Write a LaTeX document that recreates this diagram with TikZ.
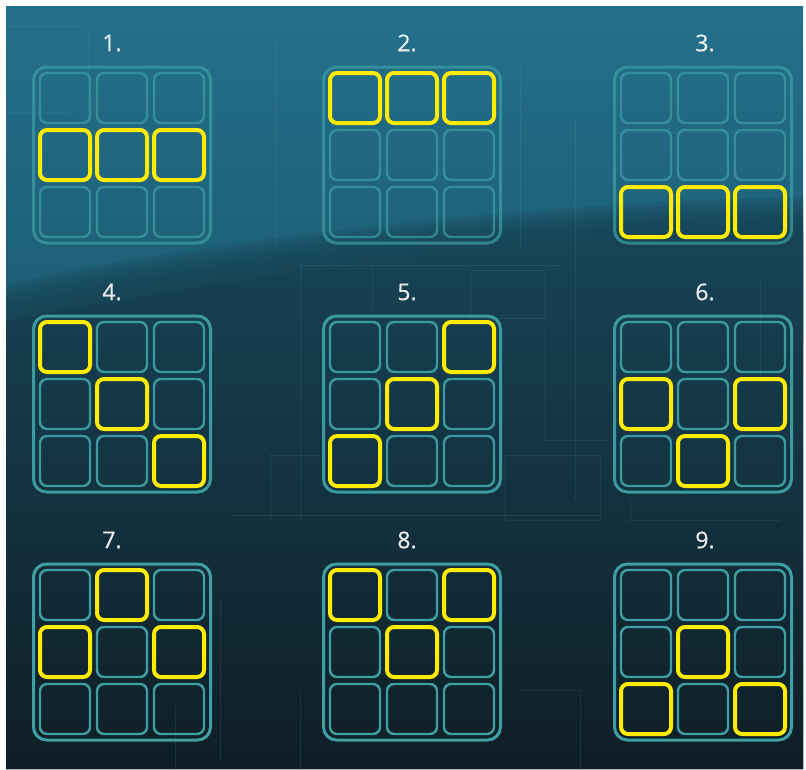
\documentclass[tikz,border=0pt]{standalone}
\usepackage{fontspec}
\setmainfont{Open Sans}
\newfontfamily\labelfont{Open Sans}[FakeBold=0.8]
\definecolor{bgtop}{RGB}{36,112,140}
\definecolor{bgcurve}{RGB}{28,92,114}
\definecolor{lowtop}{RGB}{23,68,86}
\definecolor{lowmid}{RGB}{18,44,56}
\definecolor{lowbot}{RGB}{15,30,38}
\definecolor{gridteal}{RGB}{62,160,164}
\definecolor{hlyellow}{RGB}{255,236,0}
\definecolor{labelgray}{RGB}{232,236,236}
\definecolor{faint}{RGB}{110,170,190}
\begin{document}
\begin{tikzpicture}[x=1pt,y=-1pt,
  frame/.style={draw=gridteal, line width=3pt, rounded corners=13pt, minimum width=177pt, minimum height=176pt, inner sep=0pt},
  cell/.style={draw=gridteal, line width=2.4pt, rounded corners=7pt, minimum size=50pt, inner sep=0pt},
  hcell/.style={draw=hlyellow, line width=4pt, rounded corners=7pt, minimum size=50pt, inner sep=0pt},
  numlabel/.style={text=labelgray, font=\labelfont\fontsize{23}{27}\selectfont, inner sep=0pt},
  faintline/.style={draw=faint, line width=0.8pt, opacity=0.12}]
\useasboundingbox (0,0) rectangle (806,769);
\fill[white] (0,0) rectangle (806,769);
\begin{scope}
\clip (6,6) rectangle (803,769);
% background
\shade[top color=bgtop, bottom color=bgcurve] (6,6) rectangle (803,340);
\foreach \i in {0,...,9}{
  \fill[lowtop, opacity=0.22]
    (6,320-\i*4) .. controls (200,278-\i*4) and (480,242-\i*4) .. (803,232-\i*4) -- (803,769) -- (6,769) -- cycle;
}
\shade[top color=lowtop, middle color=lowmid, bottom color=lowbot]
  (6,322) .. controls (200,280) and (480,244) .. (803,234) -- (803,769) -- (6,769) -- cycle;
% faint circuit lines
\draw[faintline] (6,26) -- (85,26);
\draw[faintline] (88,30) -- (88,120);
\draw[faintline] (6,112) -- (70,112);
\draw[faintline] (275,40) -- (275,250);
\draw[faintline] (300,262) -- (300,520);
\draw[faintline] (300,265) -- (560,265);
\draw[faintline] (372,268) -- (372,310);
\draw[faintline] (470,270) rectangle (545,318);
\draw[faintline] (520,60) -- (520,250);
\draw[faintline] (575,120) -- (575,500);
\draw[faintline] (545,440) -- (610,440);
\draw[faintline] (505,455) rectangle (600,520);
\draw[faintline] (545,325) -- (545,440);
\draw[faintline] (612,132) -- (780,132);
\draw[faintline] (270,455) -- (320,455);
\draw[faintline] (270,455) -- (270,520);
\draw[faintline] (220,600) -- (220,760);
\draw[faintline] (175,705) -- (175,769);
\draw[faintline] (520,690) -- (580,690) -- (580,769);
\draw[faintline] (300,690) -- (300,769);
\draw[faintline] (230,515) -- (600,515);
\draw[faintline] (630,500) -- (630,520) -- (780,520);
\draw[faintline] (760,280) -- (760,380);
\end{scope}
% grids
\foreach \k/\cx/\cy/\lx/\op in {1/122/155/112/0.7, 2/412/155/407/0.7, 3/703/155/705/0.7,
                                4/122/404/112/0.95, 5/412/404/407/0.95, 6/703/404/705/0.95,
                                7/122/652/112/1, 8/412/652/407/1, 9/703/652/705/1}{
  \node[numlabel] (n\k) at (\lx,\cy-112) {\k.};
  \node[frame, draw opacity=\op] (g\k) at (\cx,\cy) {};
  \foreach \r in {1,2,3}{
    \foreach \c in {1,2,3}{
      \node[cell, draw opacity=\op] (c\k-\r-\c) at ({\cx+(\c-2)*57},{\cy+(\r-2)*57}) {};
    }
  }
}
% highlighted cells
\foreach \k/\r/\c in {1/2/1,1/2/2,1/2/3,
                      2/1/1,2/1/2,2/1/3,
                      3/3/1,3/3/2,3/3/3,
                      4/1/1,4/2/2,4/3/3,
                      5/1/3,5/2/2,5/3/1,
                      6/2/1,6/2/3,6/3/2,
                      7/1/2,7/2/1,7/2/3,
                      8/1/1,8/1/3,8/2/2,
                      9/2/2,9/3/1,9/3/3}{
  \node[hcell] (h\k-\r-\c) at (c\k-\r-\c) {};
}
\end{tikzpicture}
\end{document}
